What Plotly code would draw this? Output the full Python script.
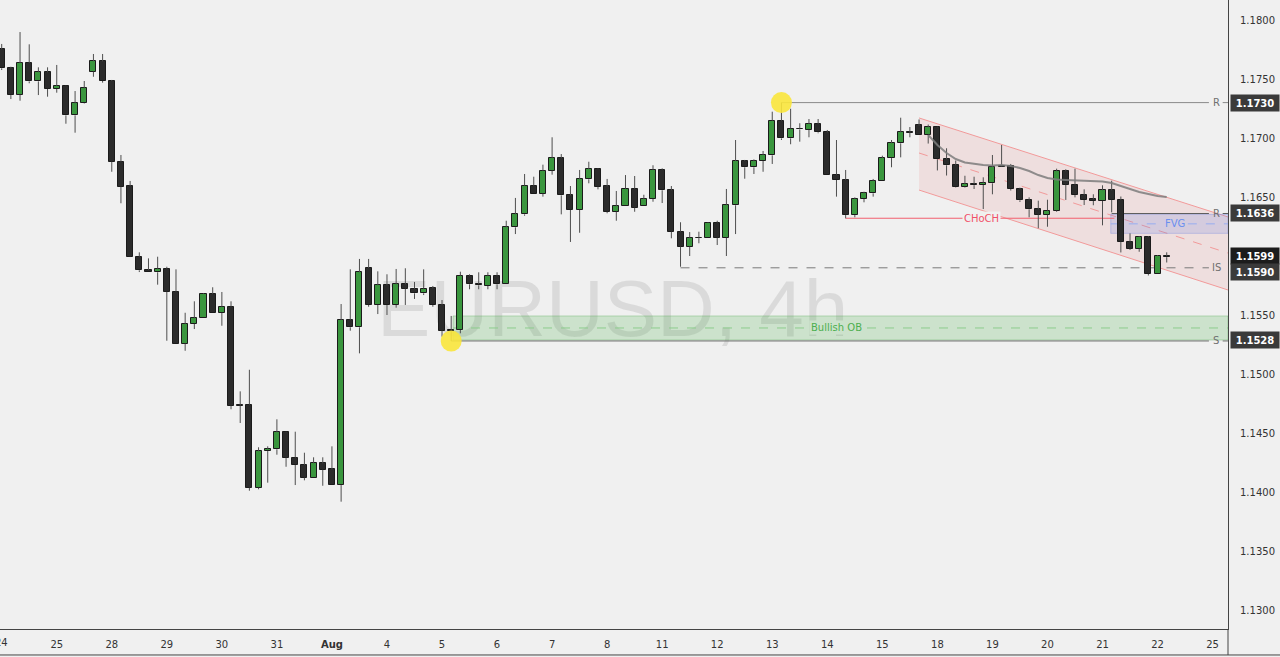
import plotly.graph_objects as go

# ---------------- data ----------------
day_labels = ["24", "25", "28", "29", "30", "31", "<b>Aug</b>", "4", "5", "6", "7", "8",
              "11", "12", "13", "14", "15", "18", "19", "20", "21", "22", "25"]
bars_per_day = 6

opens = [
    1.17752, 1.17591, 1.17367, 1.17636, 1.17480, 1.17557, 1.17415, 1.17441, 1.17192, 1.17294,
    1.17562, 1.17650, 1.17483, 1.16799, 1.16593, 1.15994, 1.15881, 1.15862, 1.15892, 1.15697,
    1.15257, 1.15424, 1.15472, 1.15678, 1.15517, 1.15570, 1.14735, 1.14740, 1.14036, 1.14347,
    1.14362, 1.14506, 1.14291, 1.14229, 1.14121, 1.14243, 1.14192, 1.14059, 1.15458, 1.15396,
    1.15898, 1.15585, 1.15752, 1.15585, 1.15760, 1.15723, 1.15684, 1.15726, 1.15585, 1.15373,
    1.15373, 1.15833, 1.15763, 1.15746, 1.15833, 1.15760, 1.16243, 1.16353, 1.16596, 1.16528,
    1.16723, 1.16830, 1.16514, 1.16390, 1.16650, 1.16737, 1.16590, 1.16375, 1.16421, 1.16570,
    1.16426, 1.16483, 1.16731, 1.16557, 1.16206, 1.16079, 1.16155, 1.16155, 1.16282, 1.16155,
    1.16430, 1.16805, 1.16752, 1.16805, 1.16853, 1.17147, 1.16997, 1.17079, 1.17068, 1.17119,
    1.17048, 1.16689, 1.16644, 1.16347, 1.16483, 1.16531, 1.16638, 1.16830, 1.16955, 1.17047,
    1.17106, 1.17025, 1.17091, 1.16820, 1.16769, 1.16587, 1.16610, 1.16602, 1.16616, 1.16767,
    1.16763, 1.16568, 1.16472, 1.16396, 1.16350, 1.16384, 1.16718, 1.16604, 1.16517, 1.16481,
    1.16466, 1.16557, 1.16475, 1.16121, 1.16062, 1.16161, 1.15847, 1.16000]

highs = [
    1.17797, 1.17604, 1.17898, 1.17794, 1.17599, 1.17599, 1.17619, 1.17445, 1.17398, 1.17483,
    1.17712, 1.17712, 1.17492, 1.16856, 1.16636, 1.16031, 1.15980, 1.15994, 1.15909, 1.15887,
    1.15519, 1.15616, 1.15684, 1.15735, 1.15695, 1.15616, 1.14853, 1.15036, 1.14379, 1.14387,
    1.14616, 1.14511, 1.14511, 1.14333, 1.14294, 1.14294, 1.14387, 1.15593, 1.15887, 1.15975,
    1.15975, 1.15870, 1.15845, 1.15890, 1.15896, 1.15780, 1.15887, 1.15746, 1.15627, 1.15492,
    1.15867, 1.15845, 1.15862, 1.15862, 1.15862, 1.16299, 1.16492, 1.16695, 1.16672, 1.16774,
    1.17006, 1.16864, 1.16593, 1.16729, 1.16799, 1.16743, 1.16653, 1.16551, 1.16686, 1.16678,
    1.16519, 1.16769, 1.16743, 1.16593, 1.16286, 1.16203, 1.16206, 1.16288, 1.16299, 1.16568,
    1.16983, 1.16814, 1.16819, 1.16890, 1.17223, 1.17300, 1.17248, 1.17125, 1.17161, 1.17161,
    1.17068, 1.16983, 1.16729, 1.16497, 1.16545, 1.16653, 1.16850, 1.16983, 1.17172, 1.17093,
    1.17157, 1.17114, 1.17096, 1.16913, 1.16809, 1.16680, 1.16672, 1.16667, 1.16856, 1.16941,
    1.16780, 1.16579, 1.16497, 1.16469, 1.16477, 1.16740, 1.16735, 1.16740, 1.16565, 1.16523,
    1.16599, 1.16638, 1.16504, 1.16192, 1.16169, 1.16169, 1.16008, 1.16031]

lows = [
    1.17576, 1.17330, 1.17316, 1.17464, 1.17364, 1.17350, 1.17384, 1.17121, 1.17045, 1.17290,
    1.17519, 1.17469, 1.16714, 1.16447, 1.15991, 1.15864, 1.15862, 1.15757, 1.15282, 1.15257,
    1.15197, 1.15381, 1.15472, 1.15517, 1.15409, 1.14701, 1.14585, 1.14011, 1.14023, 1.14079,
    1.14316, 1.14214, 1.14059, 1.14099, 1.14121, 1.14053, 1.14059, 1.13918, 1.15367, 1.15175,
    1.15570, 1.15508, 1.15500, 1.15562, 1.15585, 1.15636, 1.15669, 1.15570, 1.15316, 1.15280,
    1.15345, 1.15718, 1.15718, 1.15718, 1.15718, 1.15760, 1.16186, 1.16341, 1.16528, 1.16503,
    1.16689, 1.16353, 1.16119, 1.16197, 1.16616, 1.16565, 1.16362, 1.16299, 1.16421, 1.16375,
    1.16426, 1.16460, 1.16449, 1.16150, 1.15909, 1.16000, 1.16108, 1.16155, 1.16093, 1.16000,
    1.16186, 1.16655, 1.16695, 1.16714, 1.16780, 1.16983, 1.16947, 1.16969, 1.17006, 1.17040,
    1.16689, 1.16503, 1.16319, 1.16328, 1.16455, 1.16503, 1.16638, 1.16752, 1.16836, 1.17006,
    1.17025, 1.16953, 1.16725, 1.16682, 1.16581, 1.16580, 1.16568, 1.16398, 1.16523, 1.16754,
    1.16555, 1.16458, 1.16328, 1.16235, 1.16248, 1.16375, 1.16475, 1.16497, 1.16432, 1.16430,
    1.16260, 1.16370, 1.16030, 1.16051, 1.16036, 1.15835, 1.15847, 1.15945]

closes = [
    1.17591, 1.17364, 1.17636, 1.17480, 1.17557, 1.17415, 1.17441, 1.17192, 1.17294, 1.17421,
    1.17650, 1.17483, 1.16799, 1.16587, 1.15994, 1.15879, 1.15862, 1.15892, 1.15697, 1.15257,
    1.15424, 1.15472, 1.15678, 1.15517, 1.15570, 1.14731, 1.14733, 1.14036, 1.14345, 1.14362,
    1.14506, 1.14291, 1.14229, 1.14121, 1.14243, 1.14189, 1.14059, 1.15458, 1.15396, 1.15862,
    1.15585, 1.15752, 1.15585, 1.15760, 1.15723, 1.15684, 1.15723, 1.15585, 1.15367, 1.15367,
    1.15833, 1.15760, 1.15752, 1.15833, 1.15760, 1.16243, 1.16353, 1.16596, 1.16528, 1.16723,
    1.16830, 1.16514, 1.16390, 1.16650, 1.16737, 1.16587, 1.16375, 1.16421, 1.16570, 1.16409,
    1.16483, 1.16731, 1.16557, 1.16206, 1.16079, 1.16155, 1.16152, 1.16282, 1.16155, 1.16430,
    1.16805, 1.16752, 1.16805, 1.16856, 1.17147, 1.16997, 1.17079, 1.17073, 1.17119, 1.17048,
    1.16689, 1.16644, 1.16347, 1.16483, 1.16531, 1.16638, 1.16830, 1.16955, 1.17047, 1.17045,
    1.17025, 1.17091, 1.16820, 1.16769, 1.16585, 1.16610, 1.16600, 1.16621, 1.16757, 1.16757,
    1.16568, 1.16472, 1.16396, 1.16350, 1.16384, 1.16718, 1.16604, 1.16517, 1.16475, 1.16466,
    1.16557, 1.16475, 1.16121, 1.16062, 1.16161, 1.15847, 1.16000, 1.15990]

ma_start = 101
ma_values = [1.17025, 1.16941, 1.16873, 1.16822, 1.16792, 1.16780, 1.16771, 1.16767, 1.16771,
             1.16763, 1.16746, 1.16720, 1.16686, 1.16661, 1.16648, 1.16644, 1.16640, 1.16636,
             1.16636, 1.16631, 1.16619, 1.16593, 1.16568, 1.16542, 1.16525, 1.16508, 1.16500]

channel_x = [100, 133.68]
channel_upper = [1.17170, 1.16331]
channel_mid = [1.16873, 1.16025]
channel_lower = [1.16559, 1.15712]

r_high_level, r_high_start = 1.1730, 85
r_low_level, r_low_start = 1.1636, 121
is_level, is_start = 1.1590, 74
s_level, s_start = 1.1528, 49
choch_level, choch_start, choch_end = 1.1632, 92, 121.3
fvg_top, fvg_bottom, fvg_start = 1.16353, 1.16192, 120.9
ob_top, ob_bottom, ob_start = 1.15492, 1.15288, 49.2

y_ticks = [1.1300, 1.1350, 1.1400, 1.1450, 1.1500, 1.1550, 1.1650, 1.1700, 1.1750, 1.1800]
price_tags = [("1.1730", 1.1730, "#3a3a3a", 0),
              ("1.1636", 1.1636, "#3a3a3a", 1),
              ("1.1599", 1.1599, "#1c1c1c", 1),
              ("1.1590", 1.1590, "#3a3a3a", -4),
              ("1.1528", 1.1528, "#3a3a3a", 1)]

# ---------------- figure ----------------
X_MIN, X_MAX = -0.185, 133.68
Y_MIN, Y_MAX = 1.12839, 1.181695
BG = "#f0f0f0"
FONT = "DejaVu Sans"

n = len(opens)
idx = list(range(n))
body_base = [min(o, c) for o, c in zip(opens, closes)]
body_h = [max(abs(c - o), 0.00002) for o, c in zip(opens, closes)]
colors = ["#3a963e" if c > o else "#2b2b2b" for o, c in zip(opens, closes)]

fig = go.Figure()
fig.add_trace(go.Bar(x=idx, y=body_h, base=body_base, width=0.66,
                     marker=dict(color=colors, line=dict(color="#1b1b1b", width=1)),
                     hoverinfo="skip", showlegend=False))

wx, wy = [], []
for i, (o, h, l, c) in enumerate(zip(opens, highs, lows, closes)):
    top, bot = max(o, c), min(o, c)
    if h > top:
        wx += [i, i, None]
        wy += [h, top, None]
    if l < bot:
        wx += [i, i, None]
        wy += [bot, l, None]
fig.add_trace(go.Scatter(x=wx, y=wy, mode="lines", line=dict(color="#4e4e4e", width=1),
                         hoverinfo="skip", showlegend=False))

fig.add_trace(go.Scatter(x=list(range(ma_start, ma_start + len(ma_values))), y=ma_values,
                         mode="lines", line=dict(color="rgba(125,125,125,0.85)", width=2),
                         hoverinfo="skip", showlegend=False))

fig.add_trace(go.Scatter(x=[r_high_start, s_start], y=[highs[r_high_start], lows[s_start]],
                         mode="markers",
                         marker=dict(size=21, color="rgba(250,230,60,0.9)", line=dict(width=0)),
                         hoverinfo="skip", showlegend=False))

shapes = []
# watermark
shapes.append(dict(type="rect", xref="x", yref="y", x0=56.6, x1=76.6, y0=1.1538, y1=1.1586,
                   line=dict(width=0), fillcolor="rgba(0,0,0,0)", layer="below",
                   label=dict(text="EURUSD, 4h", textposition="middle center",
                              font=dict(family="Liberation Sans", size=80,
                                        color="rgba(0,0,0,0.09)"))))
# channel
path = (f"M {channel_x[0]},{channel_upper[0]} L {channel_x[1]},{channel_upper[1]} "
        f"L {channel_x[1]},{channel_lower[1]} L {channel_x[0]},{channel_lower[0]} Z")
shapes.append(dict(type="path", xref="x", yref="y", path=path, fillcolor="rgba(230,80,80,0.11)",
                   line=dict(width=0), layer="below"))
for ys, dash in ((channel_upper, "solid"), (channel_lower, "solid"), (channel_mid, "dash")):
    shapes.append(dict(type="line", xref="x", yref="y", x0=channel_x[0], x1=channel_x[1],
                       y0=ys[0], y1=ys[1], line=dict(color="#f29a9a", width=1, dash=dash),
                       layer="below"))
# FVG
shapes.append(dict(type="rect", xref="x", yref="y", x0=fvg_start, x1=X_MAX, y0=fvg_bottom, y1=fvg_top,
                   fillcolor="rgba(110,130,225,0.20)", line=dict(color="rgba(110,130,225,0.35)", width=1),
                   layer="below"))
fvg_mid = (fvg_top + fvg_bottom) / 2
for a, b in ((fvg_start, 126.5), (129.3, X_MAX)):
    shapes.append(dict(type="line", xref="x", yref="y", x0=a, x1=b, y0=fvg_mid, y1=fvg_mid,
                       line=dict(color="#98adf0", width=1, dash="dash"), layer="below"))
# Bullish OB
shapes.append(dict(type="rect", xref="x", yref="y", x0=ob_start, x1=X_MAX, y0=ob_bottom, y1=ob_top,
                   fillcolor="rgba(60,170,60,0.20)", line=dict(color="rgba(60,160,60,0.30)", width=1),
                   layer="below"))
ob_mid = (ob_top + ob_bottom) / 2
shapes.append(dict(type="line", xref="x", yref="y", x0=ob_start, x1=X_MAX, y0=ob_mid, y1=ob_mid,
                   line=dict(color="#8ccc8c", width=1, dash="dash"), layer="below"))

# levels
label_x = 132.4
def level(y, start, color, dash="solid", tick=True):
    shapes.append(dict(type="line", xref="x", yref="y", x0=start, x1=131.6, y0=y, y1=y,
                       line=dict(color=color, width=1, dash=dash), layer="below"))
    if tick:
        shapes.append(dict(type="line", xref="x", yref="y", x0=133.1, x1=X_MAX, y0=y, y1=y,
                           line=dict(color=color, width=1), layer="below"))

level(r_high_level, r_high_start, "#8a8a8a")
level(r_low_level, r_low_start, "#5c5c5c")
level(is_level, is_start, "#7a7a7a", dash="dash", tick=False)
level(s_level, s_start, "#6e6e6e")
shapes.append(dict(type="line", xref="x", yref="y", x0=choch_start, x1=choch_end,
                   y0=choch_level, y1=choch_level, line=dict(color="#f2606e", width=1), layer="below"))

# frame lines outside plot
shapes.append(dict(type="line", xref="paper", yref="paper", x0=0, x1=1.05, y0=-0.0413, y1=-0.0413,
                   line=dict(color="#444", width=1)))
shapes.append(dict(type="line", xref="paper", yref="paper", x0=1, x1=1, y0=-0.0413, y1=0,
                   line=dict(color="#444", width=1)))

ann = []
def txt(x, y, t, color, bg=None):
    d = dict(x=x, y=y, xref="x", yref="y", text=t, showarrow=False,
             font=dict(family=FONT, size=10, color=color), borderpad=1)
    if bg:
        d["bgcolor"] = bg
    ann.append(d)

txt(106.8, choch_level, "CHoCH", "#f0506a", BG)
txt(127.9, fvg_mid, "FVG", "#6a8ff0")
txt(91.0, ob_mid, "Bullish OB", "#4caf50", "rgb(204,226,204)")
txt(label_x, r_high_level, "R", "#707070")
txt(label_x, r_low_level, "R", "#707070")
txt(label_x, is_level, "IS", "#707070")
txt(label_x, s_level, "S", "#707070")

# first day label sits on the left edge of the chart (partly cut off, as in the original)
ann.append(dict(x=0, xref="x", y=-0.0215, yref="paper", yanchor="middle", text=day_labels[0],
                showarrow=False, font=dict(family=FONT, size=10, color="#333")))

for t, y, bg, ys in price_tags:
    ann.append(dict(x=1, xref="paper", y=y, yref="y", xanchor="left", xshift=2, yshift=ys,
                    text=f"<b>{t}</b>", showarrow=False, bgcolor=bg, width=44, height=12,
                    borderpad=2, font=dict(family=FONT, size=10, color="white")))

fig.update_layout(
    width=1280, height=657,
    margin=dict(l=0, r=52, t=0, b=28),
    paper_bgcolor=BG, plot_bgcolor=BG,
    showlegend=False, barmode="overlay", bargap=0,
    shapes=shapes, annotations=ann,
    hovermode=False,
)
fig.update_xaxes(range=[X_MIN, X_MAX], showgrid=False, zeroline=False, showline=True,
                 linecolor="#444", linewidth=1, ticks="",
                 tickvals=[i * bars_per_day for i in range(1, len(day_labels))],
                 ticktext=day_labels[1:],
                 tickfont=dict(family=FONT, size=10, color="#333"), ticklabelstandoff=6,
                 automargin=False, fixedrange=True)
fig.update_yaxes(range=[Y_MIN, Y_MAX], side="right", showgrid=False, zeroline=False, showline=True,
                 linecolor="#444", linewidth=1, ticks="",
                 tickvals=y_ticks, ticktext=[f"{v:.4f}" for v in y_ticks],
                 tickfont=dict(family=FONT, size=10, color="#333"), ticklabelstandoff=9,
                 automargin=False, fixedrange=True)

fig.write_html(
    "out.html",
    config={"displayModeBar": False},
    post_script="document.body.style.margin='0';document.body.style.background='#f0f0f0';",
)
